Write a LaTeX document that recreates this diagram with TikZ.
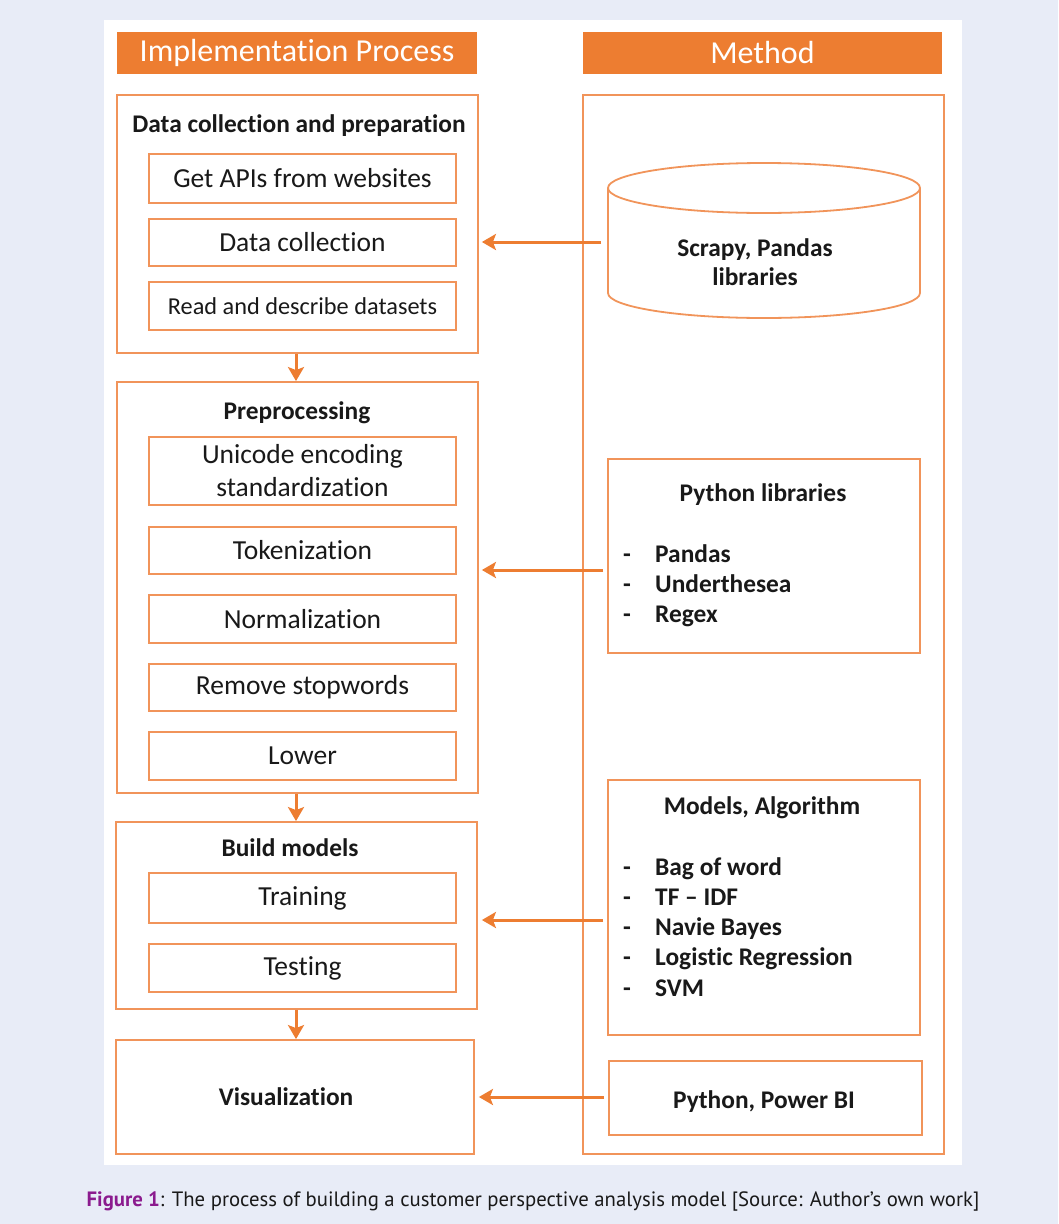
\documentclass[tikz,border=0pt]{standalone}
\usepackage{fontspec}
\setmainfont{Carlito}[RawFeature={-liga;-calt;-dlig;-clig}]
\newfontfamily\capfont{PT Sans}
\usetikzlibrary{arrows.meta}
\definecolor{bgblue}{RGB}{232,236,247}
\definecolor{orfill}{RGB}{237,125,49}
\definecolor{orline}{RGB}{241,148,90}
\definecolor{txt}{RGB}{25,25,25}
\definecolor{figpurple}{RGB}{139,27,142}
\tikzset{
  hdr/.style={fill=orfill, draw=none, text=white, inner sep=0pt, font=\fontsize{32}{34}\selectfont},
  group/.style={draw=orline, line width=1.8pt, fill=white, inner sep=0pt},
  stepbox/.style={draw=orline, line width=1.8pt, fill=white, inner sep=0pt, minimum width=307pt, text=txt, font=\fontsize{27.5}{33}\selectfont, align=center},
  gtitle/.style={text=txt, inner sep=0pt, font=\bfseries\fontsize{25.4}{29}\selectfont},
  mtext/.style={text=txt, inner sep=0pt, font=\bfseries\fontsize{25.4}{30}\selectfont, align=left},
  flow/.style={draw=orfill, line width=3pt, -{Stealth[length=14pt,width=16pt,inset=3pt]}},
}
\newcommand{\dashitem}[1]{\makebox[32pt][l]{-}#1}
\begin{document}
\begin{tikzpicture}[x=1pt,y=-1pt]
\fill[bgblue] (0,0) rectangle (1058,1224);
\useasboundingbox (0,0) rectangle (1058,1224);
\fill[white] (104,20) rectangle (962,1165);

% headers
\node[hdr, minimum width=360pt, minimum height=42pt] (hdrL) at (297,53) {Implementation Process};
\node[hdr, minimum width=359pt, minimum height=42pt] (hdrR) at (762.5,53) {Method};

% left column groups
\node[group, minimum width=361pt, minimum height=258pt] (g1) at (297.5,224) {};
\node[gtitle] (g1t) at (299,126) {Data collection and preparation};
\node[stepbox, minimum height=49pt] (s11) at (302.5,178.5) {Get APIs from websites};
\node[stepbox, minimum height=47pt] (s12) at (302.5,242.5) {Data collection};
\node[stepbox, minimum height=48pt, font=\fontsize{24.3}{28}\selectfont] (s13) at (302.5,306) {Read and describe datasets};

\node[group, minimum width=361pt, minimum height=411pt] (g2) at (297.5,587.5) {};
\node[gtitle] (g2t) at (297,413) {Preprocessing};
\node[stepbox, minimum height=68pt] (s21) at (302.5,471) {Unicode encoding\\standardization};
\node[stepbox, minimum height=47pt] (s22) at (302.5,550.5) {Tokenization};
\node[stepbox, minimum height=48pt] (s23) at (302.5,619) {Normalization};
\node[stepbox, minimum height=47pt] (s24) at (302.5,687.5) {Remove stopwords};
\node[stepbox, minimum height=48pt] (s25) at (302.5,756) {Lower};

\node[group, minimum width=361pt, minimum height=187pt] (g3) at (296.5,915.5) {};
\node[gtitle] (g3t) at (290,848) {Build models};
\node[stepbox, minimum height=50pt] (s31) at (302.5,898) {Training};
\node[stepbox, minimum height=48pt] (s32) at (302.5,968) {Testing};

\node[group, minimum width=358pt, minimum height=114pt] (g4) at (295,1097) {};
\node[gtitle] (g4t) at (286,1097) {Visualization};

% vertical flow arrows
\draw[flow] (g1.south -| 296,0) -- (g2.north -| 296,0);
\draw[flow] (g2.south -| 296,0) -- (g3.north -| 296,0);
\draw[flow] (g3.south -| 296,0) -- (g4.north -| 296,0);

% right column
\node[group, minimum width=361pt, minimum height=1059pt] (meth) at (763.5,624.5) {};

% cylinder
\draw[draw=orline, line width=1.8pt, fill=white] (608,188) -- (608,293) arc[start angle=180, end angle=0, x radius=156, y radius=25] -- (920,188);
\draw[draw=orline, line width=1.8pt, fill=white] (764,188) ellipse [x radius=156, y radius=25];
\node[mtext, align=center, font=\bfseries\fontsize{25.4}{29}\selectfont] (cyl) at (755,262) {Scrapy, Pandas\\libraries};

\node[group, minimum width=312pt, minimum height=194pt] (r2) at (764,556) {};
\node[gtitle] (r2t) at (763,495) {Python libraries};
\node[mtext, anchor=north west] (r2l) at (623,544) {\dashitem{Pandas}\\\dashitem{Underthesea}\\\dashitem{Regex}};

\node[group, minimum width=312pt, minimum height=255pt] (r3) at (764,907.5) {};
\node[gtitle] (r3t) at (762,808) {Models, Algorithm};
\node[mtext, anchor=north west, font=\bfseries\fontsize{25.4}{30.3}\selectfont] (r3l) at (623,857) {\dashitem{Bag of word}\\\dashitem{TF -- IDF}\\\dashitem{Navie Bayes}\\\dashitem{Logistic Regression}\\\dashitem{SVM}};

\node[group, minimum width=313pt, minimum height=74pt] (r4) at (765.5,1098) {};
\node[gtitle] (r4t) at (764,1102) {Python, Power BI};

% horizontal arrows
\coordinate (a1) at (601,242);
\coordinate (a2) at (603,570);
\coordinate (a3) at (603,920);
\coordinate (a4) at (604,1097);
\draw[flow, shorten >=3pt] (a1) -- (a1 -| g1.east);
\draw[flow, shorten >=3pt] (a2) -- (a2 -| g2.east);
\draw[flow, shorten >=4pt] (a3) -- (a3 -| g3.east);
\draw[flow, shorten >=4pt] (a4) -- (a4 -| g4.east);

% caption
\node[inner sep=0pt, text=txt, font=\capfont\fontsize{20.75}{23}\selectfont] (cap) at (533,1201) {\textcolor{figpurple}{\bfseries Figure 1}: The process of building a customer perspective analysis model [Source: Author’s own work]};
\end{tikzpicture}
\end{document}
